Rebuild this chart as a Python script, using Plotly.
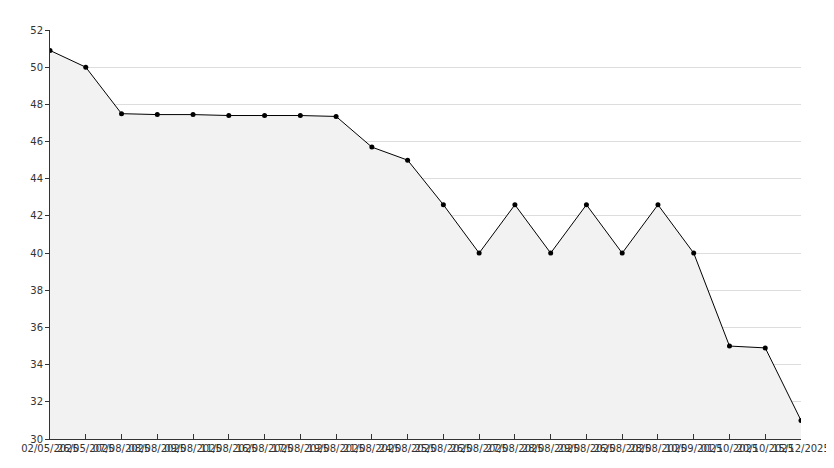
import plotly.graph_objects as go

dates = ["02/05/2025","26/05/2025","07/08/2025","08/08/2025","09/08/2025","11/08/2025",
         "16/08/2025","17/08/2025","19/08/2025","21/08/2025","24/08/2025","25/08/2025",
         "26/08/2025","27/08/2025","28/08/2025","29/08/2025","26/08/2025","28/08/2025",
         "10/09/2025","01/10/2025","20/10/2025","15/12/2025"]
values = [50.9,50.0,47.5,47.45,47.45,47.4,47.4,47.4,47.35,45.7,45.0,42.6,
          40.0,42.6,40.0,42.6,40.0,42.6,40.0,35.0,34.9,31.0]
idx = list(range(len(dates)))

fig = go.Figure(go.Scatter(
    x=idx, y=values, mode="lines+markers", fill="tozeroy",
    fillcolor="#f2f2f2", line=dict(color="black", width=1),
    marker=dict(symbol="circle", size=5, color="black")))
fig.update_layout(
    width=834, height=468, plot_bgcolor="white", paper_bgcolor="white",
    margin=dict(l=42, r=38, t=22, b=37), showlegend=False,
    font=dict(family="DejaVu Sans", size=10, color="#333"),
    xaxis=dict(range=[0, len(dates)-1], tickvals=idx, ticktext=dates, tickangle=0,
               showgrid=False, ticks="inside", ticklen=5, tickcolor="#333",
               showline=True, linecolor="#333", mirror=False),
    yaxis=dict(range=[30, 52], dtick=2, gridcolor="#dddddd", ticks="outside",
               ticklen=4, tickcolor="#333", showline=True, linecolor="#333",
               zeroline=False),
)
fig.write_html("out.html")
